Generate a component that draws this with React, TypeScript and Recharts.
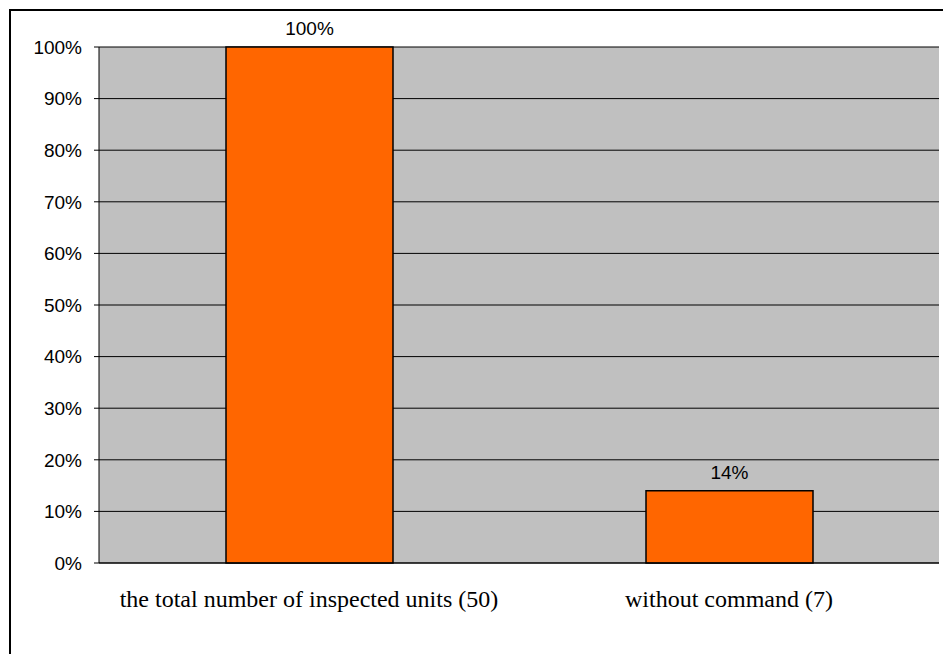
import React from 'react';
import { BarChart, Bar, XAxis, YAxis, CartesianGrid, LabelList } from 'recharts';

const categories = ['the total number of inspected units (50)', 'without command (7)'];
const shares = [1.0, 0.14];
const yTicks = [0, 0.1, 0.2, 0.3, 0.4, 0.5, 0.6, 0.7, 0.8, 0.9, 1.0];

const data = categories.map((name, i) => ({ name, value: shares[i], pos: i + 0.5 }));

const pct = (v: number) => `${Math.round(v * 100)}%`;

export default function App() {
  return (
    <div style={{ position: 'absolute', left: 0, top: 0, width: 943, height: 654, overflow: 'hidden', background: '#fff' }}>
      <div style={{ position: 'absolute', left: 9, top: 9, width: 1000, height: 700, border: '2px solid #000', boxSizing: 'border-box' }} />
      <div style={{ position: 'absolute', left: 0, top: 0 }}>
        <BarChart width={943} height={654} data={data} margin={{ top: 47, right: 4, left: 0, bottom: 0 }}>
          <CartesianGrid vertical={false} fill="#C0C0C0" stroke="#000" strokeWidth={1} fillOpacity={1} />
          <XAxis
            xAxisId="edges"
            type="number"
            dataKey="pos"
            domain={[0, 2]}
            ticks={[0, 1, 2]}
            height={0}
            axisLine={false}
            tickSize={5}
            tickLine={{ stroke: '#000' }}
            tick={false}
          />
          <XAxis
            dataKey="name"
            height={91}
            axisLine={{ stroke: '#000' }}
            tickLine={false}
            tickSize={0}
            tickMargin={27}
            tick={{ fontFamily: '"Liberation Serif", "Times New Roman", serif', fontSize: 24, fill: '#000' }}
          />
          <YAxis
            width={99}
            domain={[0, 1]}
            ticks={yTicks}
            tickFormatter={pct}
            axisLine={{ stroke: '#000' }}
            tickLine={{ stroke: '#000' }}
            tickSize={5}
            tickMargin={12}
            interval={0}
            tick={{ fontFamily: '"Liberation Sans", Arial, sans-serif', fontSize: 19, fill: '#000' }}
          />
          <YAxis
            yAxisId="right"
            orientation="right"
            width={0}
            domain={[0, 1]}
            tick={false}
            tickLine={false}
            axisLine={{ stroke: '#808080', strokeWidth: 2 }}
          />
          <Bar dataKey="value" fill="#FF6600" stroke="#000" strokeWidth={1.5} barSize={167} isAnimationActive={false}>
            <LabelList
              dataKey="value"
              position="top"
              offset={12}
              formatter={(v: any) => pct(Number(v))}
              style={{ fontFamily: '"Liberation Sans", Arial, sans-serif', fontSize: 19, fill: '#000' }}
            />
          </Bar>
        </BarChart>
      </div>
    </div>
  );
}
